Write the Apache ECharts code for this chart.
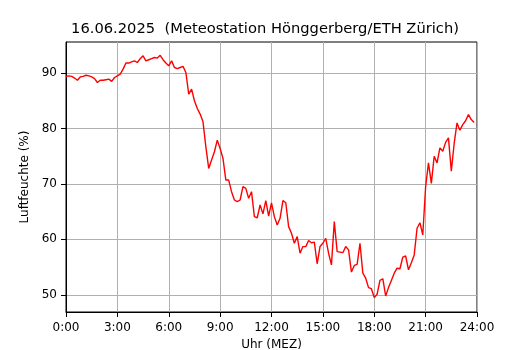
<!DOCTYPE html>
<html>
<head>
<meta charset="utf-8">
<script src="https://cdn.jsdelivr.net/npm/echarts@6/dist/echarts.min.js"></script>
<style>
  html, body { margin: 0; padding: 0; background: #fff; }
  #chart { width: 530px; height: 350px; }
</style>
</head>
<body>
<div id="chart"></div>
<script>
// Luftfeuchte alle 10 Minuten, 0:00 bis 23:50
const humidity = [
  89.4, 89.5, 89.4, 89.1, 88.7, 89.3, 89.4, 89.6, 89.5, 89.3, 89.0, 88.3,
  88.7, 88.7, 88.8, 88.9, 88.5, 89.2, 89.5, 89.8, 90.7, 91.8, 91.8, 92.0,
  92.2, 91.9, 92.6, 93.1, 92.2, 92.4, 92.6, 92.8, 92.7, 93.2, 92.4, 91.8,
  91.3, 92.2, 91.0, 90.8, 91.0, 91.2, 90.1, 86.2, 87.1, 85.0, 83.6, 82.6,
  81.2, 76.7, 72.8, 74.3, 75.8, 77.9, 76.4, 74.6, 70.7, 70.7, 68.6, 67.1,
  66.8, 67.1, 69.5, 69.2, 67.4, 68.6, 64.1, 63.9, 66.2, 64.6, 67.0, 64.2,
  66.6, 64.1, 62.6, 63.8, 67.0, 66.6, 62.3, 61.1, 59.3, 60.5, 57.5, 58.7,
  58.7, 59.8, 59.4, 59.5, 55.6, 58.7, 59.3, 60.2, 57.5, 55.4, 63.2, 57.8,
  57.7, 57.6, 58.7, 58.1, 54.1, 55.3, 55.5, 59.3, 53.9, 53.0, 51.3, 51.1,
  49.5, 50.1, 52.6, 52.9, 49.8, 51.3, 52.6, 53.9, 54.8, 54.7, 56.8, 57.0,
  54.5, 55.8, 57.2, 62.0, 63.0, 60.8, 69.5, 73.8, 70.1, 75.0, 73.8, 76.5,
  75.9, 77.5, 78.3, 72.3, 77.3, 81.0, 79.7, 80.7, 81.4, 82.5, 81.6, 81.1
]
// Zeit in Stunden (10-Minuten-Schritte)
const hours = humidity.map((v, i) => i / 6)
const yTicks = [50, 60, 70, 80, 90]

const chart = echarts.init(document.getElementById('chart'), null, { renderer: 'canvas' })
const font = 'DejaVu Sans'

chart.setOption({
  animation: false,
  title: {
    text: '16.06.2025  (Meteostation Hönggerberg/ETH Zürich)',
    left: 'center',
    top: 17,
    textStyle: { fontFamily: font, fontSize: 14.7, fontWeight: 'normal', color: '#000' }
  },
  grid: {
    left: 66, right: 53, top: 42, bottom: 38,
    outerBoundsMode: 'none',
    containLabel: false,
    show: true, borderColor: '#000', borderWidth: 1
  },
  xAxis: {
    type: 'value',
    min: 0,
    max: 24,
    interval: 3,
    name: 'Uhr (MEZ)',
    nameLocation: 'middle',
    nameGap: 25,
    nameTextStyle: { fontFamily: font, fontSize: 12, color: '#000' },
    axisLine: { lineStyle: { color: '#000', width: 1 } },
    axisTick: { show: true, length: 5, lineStyle: { color: '#000' } },
    axisLabel: {
      fontFamily: font, fontSize: 12, color: '#000', margin: 10,
      formatter: (v) => v + ':00'
    },
    splitLine: { show: true, lineStyle: { color: '#b0b0b0', width: 1 } }
  },
  yAxis: {
    type: 'value',
    min: 46.9,
    max: 95.6,
    name: 'Luftfeuchte (%)',
    nameLocation: 'middle',
    nameGap: 32,
    nameTextStyle: { fontFamily: font, fontSize: 12, color: '#000' },
    axisLine: { show: true, lineStyle: { color: '#000', width: 1 } },
    axisTick: { show: true, length: 5, lineStyle: { color: '#000' }, customValues: yTicks },
    axisLabel: {
      fontFamily: font, fontSize: 12, color: '#000', margin: 9,
      customValues: yTicks
    },
    splitLine: { show: true, lineStyle: { color: '#b0b0b0', width: 1 } }
  },
  series: [
    {
      type: 'line',
      data: hours.map((h, i) => [h, humidity[i]]),
      showSymbol: false,
      lineStyle: { color: '#ff0000', width: 1.4 },
      itemStyle: { color: '#ff0000' }
    }
  ]
})
</script>
</body>
</html>
